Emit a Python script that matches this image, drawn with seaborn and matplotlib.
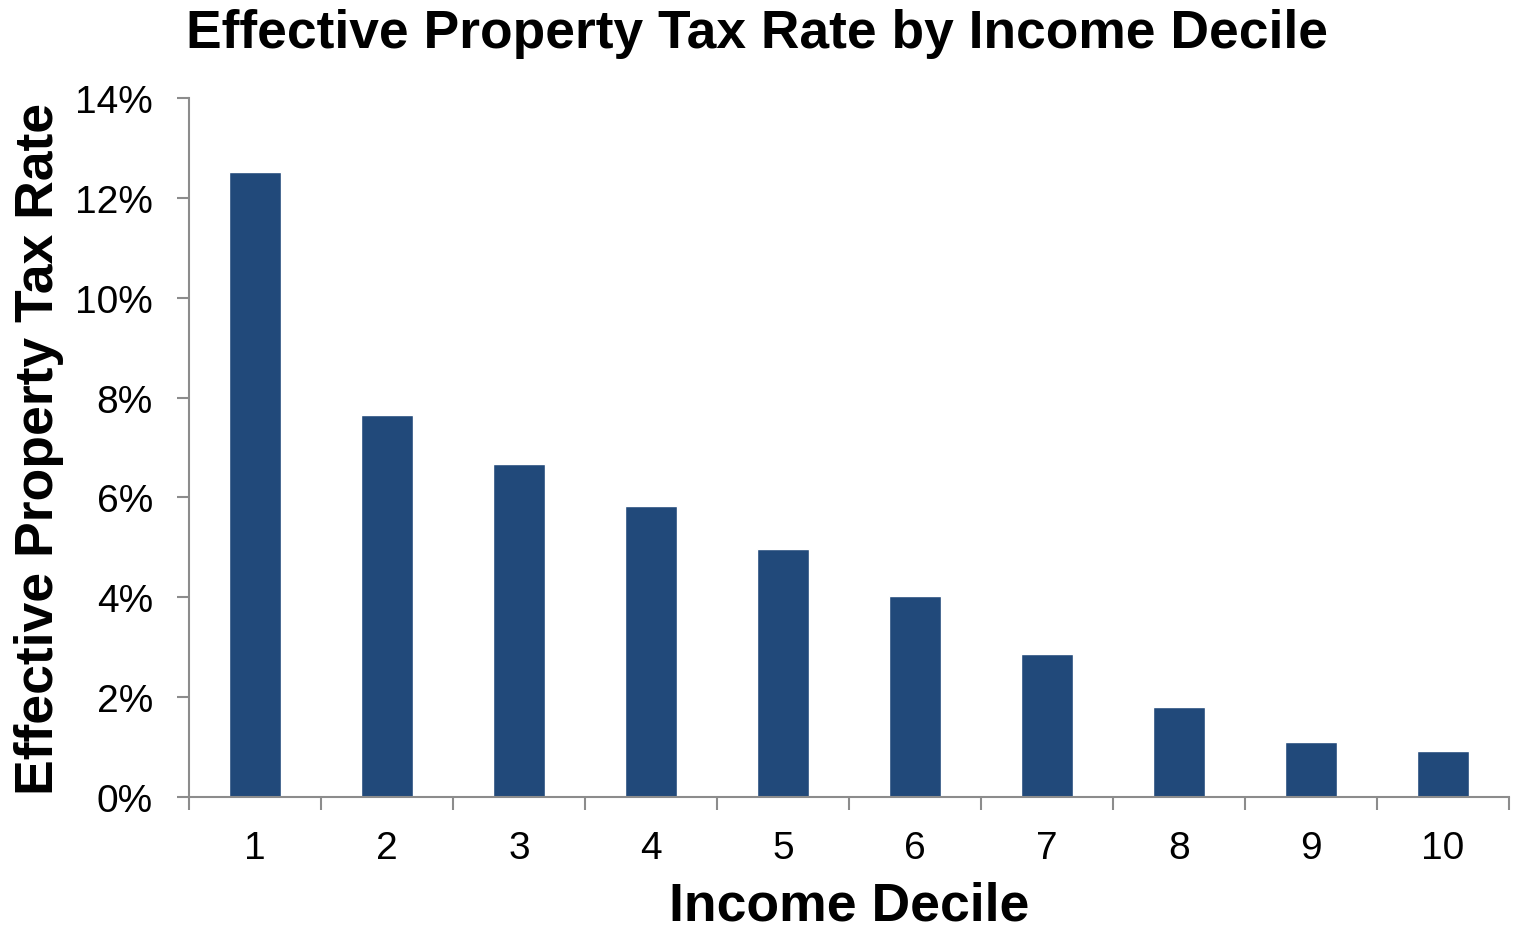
import matplotlib.pyplot as plt
import matplotlib.ticker as mticker
import numpy as np
import pandas as pd
import seaborn as sns

sns.set_style("white")
plt.rcParams['font.family'] = ['Liberation Sans', 'DejaVu Sans']
plt.rcParams['text.color'] = 'black'
plt.rcParams['axes.labelcolor'] = 'black'
plt.rcParams['xtick.color'] = 'black'
plt.rcParams['ytick.color'] = 'black'

# Data
deciles = ['1', '2', '3', '4', '5', '6', '7', '8', '9', '10']
tax_rate = [12.52, 7.65, 6.67, 5.83, 4.97, 4.03, 2.86, 1.80, 1.10, 0.92]

df = pd.DataFrame({'Income Decile': deciles, 'Rate': tax_rate})

fig = plt.figure(figsize=(15.15, 9.29), dpi=100)
ax = fig.add_axes([0.1248, 0.141, 0.8712, 0.7524])

sns.barplot(x='Income Decile', y='Rate', data=df, color='#21497a',
            width=0.4, saturation=1, ax=ax)

ax.set_ylim(0, 14)
ax.set_xlim(-0.5, len(deciles) - 0.5)
ax.yaxis.set_major_locator(mticker.MultipleLocator(2))
ax.yaxis.set_major_formatter(mticker.FuncFormatter(lambda v, p: f"{v:.0f}%"))

# x ticks sit on category boundaries
ax.set_xticks(np.arange(-0.5, len(deciles)), minor=True)
ax.tick_params(axis='x', which='major', bottom=True, length=0, pad=24, labelsize=28)
ax.tick_params(axis='x', which='minor', bottom=True, length=9, width=1.5,
               color='#8c8c8c', direction='out')
ax.tick_params(axis='y', which='major', left=True, length=9, width=1.5,
               color='#8c8c8c', direction='out', labelsize=28, pad=17)

for side in ['top', 'right']:
    ax.spines[side].set_visible(False)
for side in ['left', 'bottom']:
    ax.spines[side].set_color('#8c8c8c')
    ax.spines[side].set_linewidth(1.5)

ax.set_xlabel('Income Decile', fontsize=38.5, fontweight='bold', labelpad=10)
ax.set_ylabel('Effective Property Tax Rate', fontsize=38.5, fontweight='bold', labelpad=8)
fig.suptitle('Effective Property Tax Rate by Income Decile', fontsize=38.4,
             fontweight='bold', x=0.5, y=0.99, va='top')

plt.savefig('out.png', dpi=100)
